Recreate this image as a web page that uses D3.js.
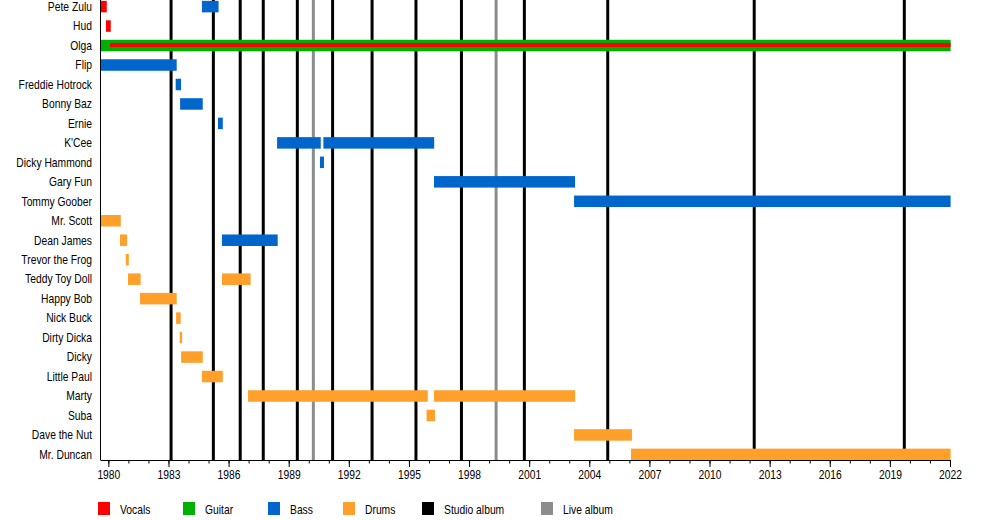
<!DOCTYPE html>
<html>
<head>
<meta charset="utf-8">
<script src="https://cdn.jsdelivr.net/npm/d3@7"></script>
<style>
  html, body { margin: 0; padding: 0; background: #fff; }
  svg { display: block; }
  text { font-family: "Liberation Sans", Arial, sans-serif; fill: #000; }
</style>
</head>
<body>
<svg id="chart" width="1000" height="520"></svg>
<script>
// ---------------- DATA ----------------
const members = [
  "Pete Zulu", "Hud", "Olga", "Flip", "Freddie Hotrock", "Bonny Baz", "Ernie",
  "K'Cee", "Dicky Hammond", "Gary Fun", "Tommy Goober", "Mr. Scott", "Dean James",
  "Trevor the Frog", "Teddy Toy Doll", "Happy Bob", "Nick Buck", "Dirty Dicka",
  "Dicky", "Little Paul", "Marty", "Suba", "Dave the Nut", "Mr. Duncan"
];

// [member, start (decimal year), end (decimal year)]
const vocalsSpans = [
  ["Pete Zulu", 1979.60, 1979.92],
  ["Hud", 1979.88, 1980.12],
  ["Olga", 1980.08, 2022.03]
];
const guitarSpans = [
  ["Olga", 1979.60, 2022.03]
];
const bassSpans = [
  ["Pete Zulu", 1984.67, 1985.50],
  ["Flip", 1979.60, 1983.41],
  ["Freddie Hotrock", 1983.36, 1983.63],
  ["Bonny Baz", 1983.58, 1984.71],
  ["Ernie", 1985.47, 1985.71],
  ["K'Cee", 1988.42, 1990.60],
  ["K'Cee", 1990.73, 1996.26],
  ["Dicky Hammond", 1990.56, 1990.76],
  ["Gary Fun", 1996.25, 2003.29],
  ["Tommy Goober", 2003.24, 2022.03],
  ["Dean James", 1985.67, 1988.45]
];
const drumsSpans = [
  ["Mr. Scott", 1979.60, 1980.62],
  ["Dean James", 1980.58, 1980.93],
  ["Trevor the Frog", 1980.87, 1981.02],
  ["Teddy Toy Doll", 1980.98, 1981.61],
  ["Teddy Toy Doll", 1985.67, 1987.10],
  ["Happy Bob", 1981.58, 1983.41],
  ["Nick Buck", 1983.38, 1983.61],
  ["Dirty Dicka", 1983.56, 1983.68],
  ["Dicky", 1983.63, 1984.71],
  ["Little Paul", 1984.67, 1985.71],
  ["Marty", 1986.97, 1995.94],
  ["Marty", 1996.25, 2003.29],
  ["Suba", 1995.88, 1996.30],
  ["Dave the Nut", 2003.24, 2006.13],
  ["Mr. Duncan", 2006.08, 2022.03]
];
const studioAlbums = [1983.13, 1985.24, 1986.58, 1987.73, 1989.43, 1991.19, 1993.16,
                      1995.35, 1997.62, 2000.76, 2004.92, 2012.23, 2019.72];
const liveAlbums = [1990.23, 1999.35];

const majorTicks = [1980, 1983, 1986, 1989, 1992, 1995, 1998, 2001, 2004, 2007, 2010, 2013, 2016, 2019, 2022];
const minorTicks = [1980, 1981, 1982, 1983, 1984, 1985, 1986, 1987, 1988, 1989, 1990, 1991, 1992,
                    1993, 1994, 1995, 1996, 1997, 1998, 1999, 2000, 2001, 2002, 2003, 2004, 2005,
                    2006, 2007, 2008, 2009, 2010, 2011, 2012, 2013, 2014, 2015, 2016, 2017, 2018,
                    2019, 2020, 2021, 2022];

const legendItems = ["Vocals", "Guitar", "Bass", "Drums", "Studio album", "Live album"];

// ---------------- STYLE ----------------
const colors = {
  "Vocals": "#ff0000",
  "Guitar": "#00b000",
  "Bass": "#0066cc",
  "Drums": "#ffa02b",
  "Studio album": "#000000",
  "Live album": "#8c8c8c"
};
const squeeze = 0.86; // horizontal condensing of text to match the narrow reference font

const svg = d3.select("#chart");
const x = d3.scaleLinear().domain([1979.583, 2022]).range([100, 950]);
const y = d3.scalePoint().domain(members).range([6.6, 454.4]);
const axisY = 460;
const barH = 11.5;

// album lines
const lines = svg.append("g");
lines.selectAll("line.studio").data(studioAlbums).join("line")
  .attr("class", "studio")
  .attr("x1", d => x(d)).attr("x2", d => x(d))
  .attr("y1", 0).attr("y2", axisY)
  .attr("stroke", colors["Studio album"]).attr("stroke-width", 3);
lines.selectAll("line.live").data(liveAlbums).join("line")
  .attr("class", "live")
  .attr("x1", d => x(d)).attr("x2", d => x(d))
  .attr("y1", 0).attr("y2", axisY)
  .attr("stroke", colors["Live album"]).attr("stroke-width", 3);

// bars
const guitarists = new Set(guitarSpans.map(d => d[0]));
function drawSpans(data, role, thinFn) {
  svg.append("g").selectAll("rect").data(data).join("rect")
    .attr("x", d => x(d[1]))
    .attr("width", d => x(d[2]) - x(d[1]))
    .attr("y", d => thinFn(d) ? y(d[0]) - 2.6 : y(d[0]) - barH / 2)
    .attr("height", d => thinFn(d) ? 4 : barH)
    .attr("fill", colors[role]);
}
drawSpans(guitarSpans, "Guitar", () => false);
drawSpans(bassSpans, "Bass", () => false);
drawSpans(drumsSpans, "Drums", () => false);
drawSpans(vocalsSpans, "Vocals", d => guitarists.has(d[0]));

// left axis line
svg.append("line")
  .attr("x1", 100.5).attr("x2", 100.5).attr("y1", 0).attr("y2", axisY)
  .attr("stroke", "#000").attr("stroke-width", 1);

// row labels
svg.append("g").selectAll("text").data(members).join("text")
  .attr("transform", d => `translate(92,${y(d) + 4.3}) scale(${squeeze},1)`)
  .attr("text-anchor", "end")
  .attr("font-size", 12)
  .text(d => d);

// x axis
const minorAxis = d3.axisBottom(x).tickValues(minorTicks).tickSize(3.5).tickSizeOuter(0).tickFormat("");
const majorAxis = d3.axisBottom(x).tickValues(majorTicks).tickSize(7).tickSizeOuter(0).tickFormat(d3.format("d"));
const gMinor = svg.append("g").attr("transform", `translate(0,${axisY})`).call(minorAxis);
gMinor.select(".domain").attr("stroke", "#000");
gMinor.selectAll(".tick line").attr("stroke", "#000");
const gMajor = svg.append("g").attr("transform", `translate(0,${axisY})`).call(majorAxis);
gMajor.select(".domain").remove();
gMajor.selectAll(".tick line").attr("stroke", "#000");
gMajor.selectAll(".tick text")
  .attr("font-family", null).attr("font-size", 12).attr("fill", "#000")
  .attr("dy", null).attr("y", null)
  .attr("transform", `translate(0,19) scale(${squeeze},1)`);

// legend
const legendX = [98, 183, 268, 343, 422, 541];
const lg = svg.append("g").selectAll("g").data(legendItems).join("g")
  .attr("transform", (d, i) => `translate(${legendX[i]},502)`);
lg.append("rect").attr("width", 12).attr("height", 13).attr("fill", d => colors[d]);
lg.append("text")
  .attr("transform", `translate(22,12) scale(${squeeze},1)`)
  .attr("font-size", 12).text(d => d);
</script>
</body>
</html>
